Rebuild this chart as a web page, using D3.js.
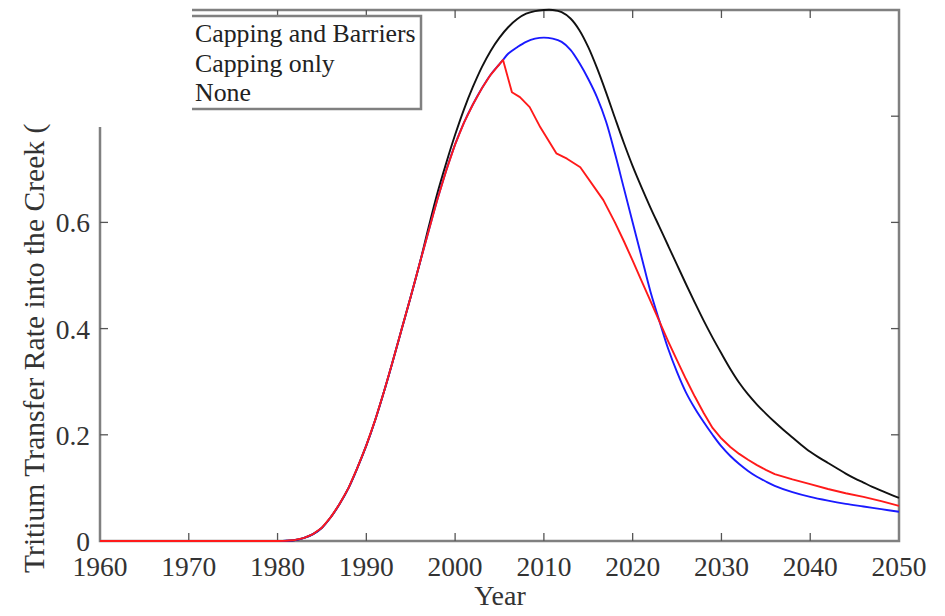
<!DOCTYPE html>
<html>
<head>
<meta charset="utf-8">
<script src="https://cdn.jsdelivr.net/npm/d3@7"></script>
<style>
  body { margin: 0; background: #fff; }
  svg { display: block; }
  text { font-family: "Liberation Serif", "DejaVu Serif", serif; }
</style>
</head>
<body>
<svg id="chart" width="945" height="616"></svg>
<script>
// rising part shared by all three runs
var riseYears = [1960, 1970, 1980, 1981, 1982, 1983, 1984, 1985, 1986, 1987, 1988, 1989, 1990, 1991, 1992, 1993, 1994, 1995, 1996]
var riseVals  = [0, 0, 0, 0.0005, 0.002, 0.006, 0.013, 0.025, 0.045, 0.07, 0.1, 0.138, 0.18, 0.228, 0.282, 0.34, 0.4, 0.46, 0.522]

// capping runs stay together until the barriers go in
var sharedYears = [1997, 1998, 1999, 2000, 2001, 2002, 2003, 2004, 2005, 2005.4]
var sharedVals  = [0.583, 0.643, 0.698, 0.747, 0.788, 0.822, 0.852, 0.878, 0.898, 0.906]

var redYears = [2006.4, 2007.3, 2008.4, 2009.6, 2011.4, 2012.6, 2014.1, 2016.7, 2018, 2019, 2020, 2021, 2022, 2023, 2024, 2025, 2026, 2027, 2028, 2029, 2030, 2031, 2032, 2033, 2034, 2035, 2036, 2038, 2040, 2042, 2044, 2046, 2048, 2050]
var redVals  = [0.845, 0.836, 0.817, 0.779, 0.73, 0.72, 0.704, 0.642, 0.6, 0.565, 0.528, 0.49, 0.452, 0.414, 0.376, 0.34, 0.305, 0.272, 0.241, 0.213, 0.193, 0.177, 0.164, 0.153, 0.143, 0.134, 0.126, 0.116, 0.107, 0.098, 0.09, 0.083, 0.075, 0.066]

var blueYears = [2006, 2007, 2008, 2009, 2010, 2011, 2012, 2013, 2014, 2015, 2016, 2017, 2018, 2019, 2020, 2021, 2022, 2023, 2024, 2025, 2026, 2027, 2028, 2029, 2030, 2031, 2032, 2033, 2034, 2035, 2036, 2038, 2040, 2042, 2044, 2046, 2048, 2050]
var blueVals  = [0.918, 0.93, 0.94, 0.946, 0.948, 0.946, 0.94, 0.925, 0.9, 0.87, 0.835, 0.79, 0.73, 0.665, 0.6, 0.535, 0.47, 0.415, 0.362, 0.318, 0.28, 0.25, 0.224, 0.2, 0.178, 0.16, 0.145, 0.132, 0.121, 0.112, 0.104, 0.092, 0.083, 0.076, 0.07, 0.065, 0.06, 0.055]

var blackYears = [1997, 1998, 1999, 2000, 2001, 2002, 2003, 2004, 2005, 2006, 2007, 2008, 2009, 2010, 2011, 2012, 2013, 2014, 2015, 2016, 2017, 2018, 2019, 2020, 2021, 2022, 2023, 2024, 2025, 2026, 2027, 2028, 2029, 2030, 2031, 2032, 2033, 2034, 2035, 2036, 2037, 2038, 2039, 2040, 2041, 2042, 2043, 2044, 2045, 2046, 2047, 2048, 2049, 2050]
var blackVals  = [0.59, 0.655, 0.712, 0.765, 0.813, 0.855, 0.892, 0.923, 0.948, 0.968, 0.983, 0.993, 0.998, 1.0, 1.0, 0.996, 0.984, 0.962, 0.93, 0.89, 0.845, 0.797, 0.75, 0.706, 0.666, 0.628, 0.592, 0.556, 0.52, 0.484, 0.449, 0.415, 0.383, 0.353, 0.324, 0.298, 0.276, 0.257, 0.24, 0.224, 0.209, 0.195, 0.181, 0.168, 0.157, 0.147, 0.137, 0.127, 0.118, 0.11, 0.102, 0.095, 0.088, 0.081]

var legendLabels = ["Capping and Barriers", "Capping only", "None"]
var xTicks = [1960, 1970, 1980, 1990, 2000, 2010, 2020, 2030, 2040, 2050]
var yTicks = [0, 0.2, 0.4, 0.6, 0.8, 1]
var yLabels = [0, 0.2, 0.4, 0.6]   // 0.8 and 1 fall in the cut-away corner

function pts(years, vals) {
  return years.map(function(y, i) { return [y, vals[i]] })
}

var series = [
  { name: "None", color: "#111", curve: d3.curveCatmullRom,
    data: pts(riseYears, riseVals).concat(pts(blackYears, blackVals)) },
  { name: "Capping only", color: "#1a1aff", curve: d3.curveCatmullRom,
    data: pts(riseYears, riseVals).concat(pts(sharedYears, sharedVals), pts(blueYears, blueVals)) },
  { name: "Capping and Barriers", color: "#ff1a1a", curve: d3.curveLinear,
    data: pts(riseYears, riseVals).concat(pts(sharedYears, sharedVals), pts(redYears, redVals)) }
]

var svg = d3.select("#chart")
var frame = "#808080"

var x = d3.scaleLinear().domain([1960, 2050]).range([100, 899])
var y = d3.scaleLinear().domain([0, 1]).range([541, 10])

// frame
svg.append("rect")
  .attr("x", 100).attr("y", 10)
  .attr("width", 799).attr("height", 531)
  .attr("fill", "none").attr("stroke", frame).attr("stroke-width", 2.5)

// inward ticks on all four sides
var tk = svg.append("g").attr("stroke", "#555").attr("stroke-width", 1.3)
xTicks.slice(1, -1).forEach(function(t) {
  tk.append("line").attr("x1", x(t)).attr("x2", x(t)).attr("y1", 541).attr("y2", 533)
  tk.append("line").attr("x1", x(t)).attr("x2", x(t)).attr("y1", 10).attr("y2", 18)
})
yTicks.slice(1, -1).forEach(function(t) {
  tk.append("line").attr("x1", 100).attr("x2", 108).attr("y1", y(t)).attr("y2", y(t))
  tk.append("line").attr("x1", 899).attr("x2", 891).attr("y1", y(t)).attr("y2", y(t))
})

// lines
var line = d3.line().x(function(d) { return x(d[0]) }).y(function(d) { return y(d[1]) })
series.forEach(function(s) {
  svg.append("path")
    .datum(s.data)
    .attr("d", line.curve(s.curve))
    .attr("fill", "none")
    .attr("stroke", s.color)
    .attr("stroke-width", 1.9)
    .attr("stroke-linejoin", "round")
})

// tick labels
svg.append("g").selectAll("text")
  .data(xTicks).enter().append("text")
  .attr("x", function(d) { return x(d) })
  .attr("y", 576)
  .attr("text-anchor", "middle")
  .attr("font-size", 27.5)
  .attr("fill", "#333")
  .text(function(d) { return d })

svg.append("g").selectAll("text")
  .data(yLabels).enter().append("text")
  .attr("x", 90)
  .attr("y", function(d) { return y(d) })
  .attr("dy", "0.36em")
  .attr("text-anchor", "end")
  .attr("font-size", 27.5)
  .attr("fill", "#333")
  .text(function(d) { return d === 0 ? "0" : d3.format(".1f")(d) })

svg.append("text")
  .attr("x", 500).attr("y", 605)
  .attr("text-anchor", "middle")
  .attr("font-size", 28)
  .attr("fill", "#333")
  .text("Year")

// legend box, left edge falls under the cut-away corner
svg.append("rect")
  .attr("x", 170).attr("y", 16)
  .attr("width", 251).attr("height", 93)
  .attr("fill", "#fff").attr("stroke", frame).attr("stroke-width", 2.5)

// the source image is cut away in the upper left corner
svg.append("rect")
  .attr("x", 0).attr("y", 0)
  .attr("width", 192).attr("height", 127)
  .attr("fill", "#fff")

svg.append("g").selectAll("text")
  .data(legendLabels).enter().append("text")
  .attr("x", 195)
  .attr("y", function(d, i) { return 42 + i * 29.5 })
  .attr("font-size", 25.8)
  .attr("fill", "#222")
  .text(function(d) { return d })

svg.append("text")
  .attr("transform", "translate(44,573) rotate(-90)")
  .attr("font-size", 29.6)
  .attr("fill", "#333")
  .text("Tritium Transfer Rate into the Creek (")
</script>
</body>
</html>
